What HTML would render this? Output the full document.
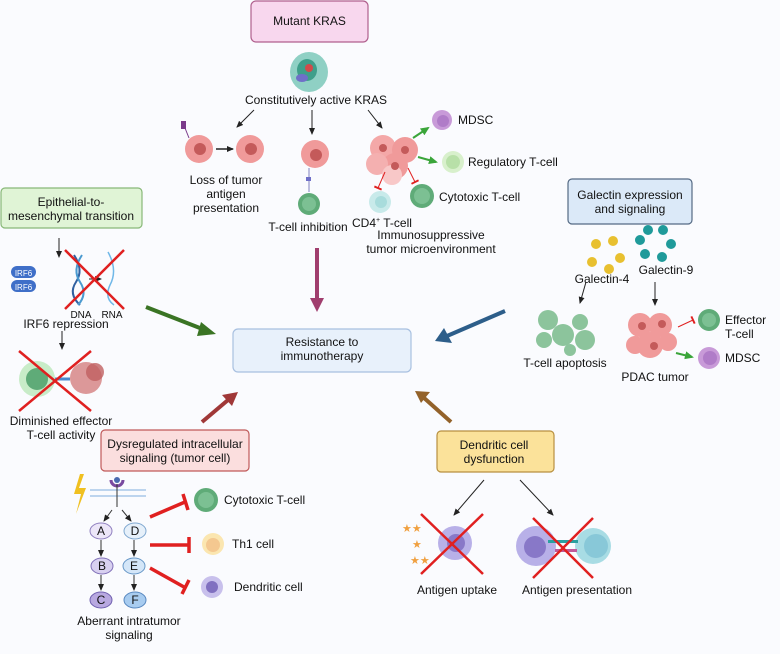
<!DOCTYPE html>
<html><head><meta charset="utf-8"><style>
html,body{margin:0;padding:0;background:#fafbfe;}
svg{display:block;font-family:"Liberation Sans",Arial,sans-serif;}
text{fill:#111;}
</style></head><body>
<svg width="780" height="654" viewBox="0 0 780 654" xmlns="http://www.w3.org/2000/svg">
<defs>
<marker id="ah" markerWidth="8" markerHeight="8" refX="6" refY="4" orient="auto" markerUnits="userSpaceOnUse"><path d="M0,1 L7,4 L0,7 z" fill="#222"/></marker>
<marker id="ag" markerWidth="10" markerHeight="10" refX="7" refY="5" orient="auto" markerUnits="userSpaceOnUse"><path d="M0,1 L9,5 L0,9 z" fill="#3aa53a"/></marker>
<marker id="ir" markerWidth="4" markerHeight="8" refX="1" refY="4" orient="auto" markerUnits="userSpaceOnUse"><path d="M0,0 L2,0 L2,8 L0,8z" fill="#e02020"/></marker>
</defs>
<rect width="780" height="654" fill="#fafbfe"/>

<!-- Mutant KRAS -->
<rect x="251" y="1" width="117" height="41" rx="5" fill="#f8d7ee" stroke="#b0608e" stroke-width="1.2"/>
<text x="309.5" y="25" font-size="12" text-anchor="middle">Mutant KRAS</text>
<ellipse cx="309" cy="72" rx="19" ry="20" fill="#8fd0c4"/>
<ellipse cx="307" cy="70" rx="10" ry="11" fill="#3e9f8a"/>
<circle cx="309" cy="68" r="4" fill="#d24a4a"/>
<ellipse cx="302" cy="78" rx="6" ry="4" fill="#6f6fc8"/>
<text x="316" y="104" font-size="12" text-anchor="middle">Constitutively active KRAS</text>
<line x1="254" y1="110" x2="237" y2="127" stroke="#222" marker-end="url(#ah)"/>
<line x1="312" y1="110" x2="312" y2="134" stroke="#222" marker-end="url(#ah)"/>
<line x1="368" y1="110" x2="382" y2="128" stroke="#222" marker-end="url(#ah)"/>

<!-- loss of antigen -->
<rect x="181" y="121" width="5" height="8" fill="#7a3a8a"/>
<line x1="185" y1="128" x2="189" y2="138" stroke="#7a3a8a"/>
<circle cx="199" cy="149" r="14" fill="#f09a9a"/><circle cx="200" cy="149" r="6" fill="#c45a5a"/>
<line x1="216" y1="149" x2="233" y2="149" stroke="#222" stroke-width="1.5" marker-end="url(#ah)"/>
<circle cx="250" cy="149" r="14" fill="#f09a9a"/><circle cx="251" cy="149" r="6" fill="#c45a5a"/>
<text x="226" y="184" font-size="12" text-anchor="middle">Loss of tumor</text>
<text x="226" y="198" font-size="12" text-anchor="middle">antigen</text>
<text x="226" y="212" font-size="12" text-anchor="middle">presentation</text>

<!-- T-cell inhibition -->
<circle cx="315" cy="154" r="14" fill="#f09a9a"/><circle cx="316" cy="155" r="6" fill="#c45a5a"/>
<line x1="309" y1="168" x2="309" y2="192" stroke="#8080c0"/>
<rect x="306" y="177" width="5" height="4" fill="#6f6fc8"/>
<circle cx="309" cy="204" r="11" fill="#5fab78"/><circle cx="309" cy="204" r="7" fill="#7cc093"/>
<text x="308" y="231" font-size="12" text-anchor="middle">T-cell inhibition</text>

<!-- TME cluster -->
<circle cx="383" cy="148" r="13" fill="#f4a8a8"/>
<circle cx="405" cy="150" r="13" fill="#f09a9a"/>
<circle cx="395" cy="166" r="13" fill="#f09a9a"/>
<circle cx="377" cy="164" r="11" fill="#f4b0b0"/>
<circle cx="392" cy="175" r="10" fill="#f8c8c8"/>
<circle cx="383" cy="148" r="4" fill="#c45a5a"/><circle cx="405" cy="150" r="4" fill="#c45a5a"/><circle cx="395" cy="166" r="4" fill="#c45a5a"/>
<line x1="413" y1="138" x2="428" y2="128" stroke="#3aa53a" stroke-width="2" marker-end="url(#ag)"/>
<line x1="418" y1="157" x2="436" y2="162" stroke="#3aa53a" stroke-width="2" marker-end="url(#ag)"/>
<line x1="385" y1="172" x2="378" y2="188" stroke="#e02020" marker-end="url(#ir)"/>
<line x1="408" y1="168" x2="415" y2="182" stroke="#e02020" marker-end="url(#ir)"/>
<circle cx="442" cy="120" r="10" fill="#c89ad8"/><circle cx="443" cy="121" r="6" fill="#b07cc8"/>
<text x="458" y="124" font-size="12">MDSC</text>
<circle cx="453" cy="162" r="11" fill="#d8f0cc"/><circle cx="453" cy="162" r="7" fill="#b8e0a8"/>
<text x="468" y="166" font-size="12">Regulatory T-cell</text>
<circle cx="422" cy="196" r="12" fill="#5fab78"/><circle cx="422" cy="196" r="8" fill="#7cc093"/>
<text x="439" y="201" font-size="12">Cytotoxic T-cell</text>
<circle cx="380" cy="202" r="11" fill="#c8eaea"/><circle cx="381" cy="202" r="6" fill="#a8dcdc"/>
<text x="352" y="227" font-size="12">CD4<tspan font-size="7" dy="-5">+</tspan><tspan dy="5"> T-cell</tspan></text>
<text x="431" y="239" font-size="12" text-anchor="middle">Immunosuppressive</text>
<text x="431" y="253" font-size="12" text-anchor="middle">tumor microenvironment</text>
<line x1="317" y1="248" x2="317" y2="300" stroke="#a03e6e" stroke-width="4"/>
<path d="M310,298 L324,298 L317,312 z" fill="#a03e6e"/>

<!-- Resistance -->
<rect x="233" y="329" width="178" height="43" rx="5" fill="#e8f1fb" stroke="#a8c0e0" stroke-width="1.2"/>
<text x="322" y="346" font-size="12" text-anchor="middle">Resistance to</text>
<text x="322" y="360" font-size="12" text-anchor="middle">immunotherapy</text>

<!-- EMT -->
<rect x="1" y="188" width="141" height="40" rx="4" fill="#e0f4d6" stroke="#88b878" stroke-width="1.2"/>
<text x="71" y="206" font-size="12" text-anchor="middle">Epithelial-to-</text>
<text x="71" y="220" font-size="12" text-anchor="middle">mesenchymal transition</text>
<line x1="59" y1="238" x2="59" y2="257" stroke="#222" marker-end="url(#ah)"/>
<rect x="11" y="266" width="25" height="12" rx="6" fill="#3f6fc8"/>
<rect x="11" y="280" width="25" height="12" rx="6" fill="#3f6fc8"/>
<text x="23.5" y="276" font-size="8" fill="#fff" text-anchor="middle" style="fill:#fff">IRF6</text>
<text x="23.5" y="290" font-size="8" text-anchor="middle" style="fill:#fff">IRF6</text>
<path d="M74,255 Q84,270 76,282 Q68,294 80,305" stroke="#3060a0" stroke-width="2" fill="none"/>
<path d="M82,255 Q72,270 80,282 Q88,294 78,305" stroke="#4a9ad0" stroke-width="2" fill="none"/>
<path d="M108,252 Q118,270 110,285 Q104,298 114,305" stroke="#70b8e8" stroke-width="1.5" fill="none"/>
<line x1="89" y1="279" x2="101" y2="279" stroke="#222" marker-end="url(#ah)"/>
<line x1="65" y1="250" x2="124" y2="309" stroke="#e02020" stroke-width="2.5"/>
<line x1="124" y1="250" x2="65" y2="309" stroke="#e02020" stroke-width="2.5"/>
<text x="81" y="318" font-size="10" text-anchor="middle">DNA</text>
<text x="112" y="318" font-size="10" text-anchor="middle">RNA</text>
<text x="66" y="328" font-size="12" text-anchor="middle">IRF6 repression</text>
<line x1="62" y1="331" x2="62" y2="349" stroke="#222" marker-end="url(#ah)"/>
<circle cx="37" cy="379" r="18" fill="#c8ecc8"/><circle cx="37" cy="379" r="11" fill="#5fab78"/>
<circle cx="86" cy="378" r="16" fill="#d48080" opacity="0.8"/><circle cx="95" cy="372" r="9" fill="#c06060" opacity="0.8"/>
<line x1="55" y1="379" x2="70" y2="379" stroke="#4a8ad0" stroke-width="3"/>
<line x1="19" y1="351" x2="91" y2="411" stroke="#e02020" stroke-width="2.5"/>
<line x1="91" y1="351" x2="19" y2="411" stroke="#e02020" stroke-width="2.5"/>
<text x="61" y="425" font-size="12" text-anchor="middle">Diminished effector</text>
<text x="61" y="439" font-size="12" text-anchor="middle">T-cell activity</text>
<line x1="146" y1="307" x2="205" y2="330" stroke="#3a7424" stroke-width="4"/>
<path d="M201,322 L216,334 L197,336 z" fill="#3a7424"/>

<!-- Galectin -->
<rect x="568" y="179" width="124" height="45" rx="4" fill="#dbe9f8" stroke="#556a84" stroke-width="1.2"/>
<text x="630" y="199" font-size="12" text-anchor="middle">Galectin expression</text>
<text x="630" y="213" font-size="12" text-anchor="middle">and signaling</text>
<g fill="#e8c030"><circle cx="596" cy="244" r="5"/><circle cx="613" cy="241" r="5"/><circle cx="620" cy="258" r="5"/><circle cx="609" cy="269" r="5"/><circle cx="592" cy="262" r="5"/></g>
<g fill="#1f9a9a"><circle cx="648" cy="230" r="5"/><circle cx="663" cy="230" r="5"/><circle cx="671" cy="244" r="5"/><circle cx="662" cy="257" r="5"/><circle cx="645" cy="254" r="5"/><circle cx="640" cy="240" r="5"/></g>
<text x="602" y="283" font-size="12" text-anchor="middle">Galectin-4</text>
<text x="666" y="274" font-size="12" text-anchor="middle">Galectin-9</text>
<line x1="586" y1="282" x2="580" y2="303" stroke="#222" marker-end="url(#ah)"/>
<line x1="655" y1="282" x2="655" y2="305" stroke="#222" marker-end="url(#ah)"/>
<g fill="#8cc49c"><circle cx="548" cy="320" r="10"/><circle cx="563" cy="335" r="11"/><circle cx="544" cy="340" r="8"/><circle cx="580" cy="322" r="8"/><circle cx="585" cy="340" r="10"/><circle cx="570" cy="350" r="6"/></g>
<text x="565" y="367" font-size="12" text-anchor="middle">T-cell apoptosis</text>
<g fill="#f09a9a"><circle cx="640" cy="325" r="12"/><circle cx="660" cy="325" r="12"/><circle cx="650" cy="345" r="13"/><circle cx="635" cy="345" r="9"/><circle cx="668" cy="342" r="9"/></g>
<g fill="#c45a5a"><circle cx="642" cy="326" r="4"/><circle cx="662" cy="324" r="4"/><circle cx="654" cy="346" r="4"/></g>
<text x="655" y="381" font-size="12" text-anchor="middle">PDAC tumor</text>
<line x1="678" y1="327" x2="693" y2="320" stroke="#e02020" marker-end="url(#ir)"/>
<circle cx="709" cy="320" r="11" fill="#5fab78"/><circle cx="709" cy="320" r="7" fill="#7cc093"/>
<text x="725" y="324" font-size="12">Effector</text>
<text x="725" y="338" font-size="12">T-cell</text>
<line x1="676" y1="353" x2="692" y2="357" stroke="#3aa53a" stroke-width="2" marker-end="url(#ag)"/>
<circle cx="709" cy="358" r="11" fill="#c89ad8"/><circle cx="710" cy="358" r="7" fill="#b07cc8"/>
<text x="725" y="362" font-size="12">MDSC</text>
<line x1="505" y1="311" x2="447" y2="336" stroke="#2d5e8a" stroke-width="4"/>
<path d="M444,328 L435,341 L452,343 z" fill="#2d5e8a"/>

<!-- Dysregulated -->
<rect x="101" y="430" width="148" height="41" rx="4" fill="#fbdede" stroke="#c05a5a" stroke-width="1.2"/>
<text x="175" y="448" font-size="12" text-anchor="middle">Dysregulated intracellular</text>
<text x="175" y="462" font-size="12" text-anchor="middle">signaling (tumor cell)</text>
<line x1="202" y1="422" x2="228" y2="400" stroke="#a03838" stroke-width="4"/>
<path d="M222,395 L238,392 L232,406 z" fill="#a03838"/>
<path d="M80,474 L74,494 L81,494 L76,514 L86,488 L79,488 L84,474 z" fill="#f0c020"/>
<line x1="90" y1="490" x2="146" y2="490" stroke="#a8c8e8" stroke-width="1.5"/>
<line x1="90" y1="496" x2="146" y2="496" stroke="#a8c8e8" stroke-width="1.5"/>
<path d="M111,480 A6,6 0 0,0 123,480" stroke="#7a4aa0" stroke-width="3" fill="none"/>
<circle cx="117" cy="480" r="3" fill="#4a6ab0"/>
<line x1="117" y1="484" x2="117" y2="507" stroke="#333"/>
<line x1="112" y1="510" x2="104" y2="521" stroke="#333" marker-end="url(#ah)"/>
<line x1="122" y1="510" x2="131" y2="521" stroke="#333" marker-end="url(#ah)"/>
<g font-size="12" text-anchor="middle">
<ellipse cx="101" cy="531" rx="11" ry="8" fill="#ece6f8" stroke="#9080c0"/><text x="101" y="535">A</text>
<ellipse cx="135" cy="531" rx="11" ry="8" fill="#e6f0fa" stroke="#80a8d0"/><text x="135" y="535">D</text>
<ellipse cx="102" cy="566" rx="11" ry="8" fill="#d8d0f0" stroke="#8070b8"/><text x="102" y="570">B</text>
<ellipse cx="134" cy="566" rx="11" ry="8" fill="#d4e6f8" stroke="#6898c8"/><text x="134" y="570">E</text>
<ellipse cx="101" cy="600" rx="11" ry="8" fill="#b8a8e0" stroke="#7060b0"/><text x="101" y="604">C</text>
<ellipse cx="135" cy="600" rx="11" ry="8" fill="#a8ccf0" stroke="#5888c0"/><text x="135" y="604">F</text>
</g>
<g stroke="#333"><line x1="101" y1="540" x2="101" y2="556" marker-end="url(#ah)"/><line x1="134" y1="540" x2="134" y2="556" marker-end="url(#ah)"/><line x1="101" y1="575" x2="101" y2="590" marker-end="url(#ah)"/><line x1="134" y1="575" x2="134" y2="590" marker-end="url(#ah)"/></g>
<g stroke="#e02020" stroke-width="3.5"><line x1="150" y1="517" x2="185" y2="502"/><line x1="183" y1="494" x2="188" y2="510"/>
<line x1="150" y1="545" x2="188" y2="545"/><line x1="189" y1="537" x2="189" y2="553"/>
<line x1="150" y1="568" x2="184" y2="587"/><line x1="189" y1="580" x2="182" y2="594"/></g>
<circle cx="206" cy="500" r="12" fill="#5fab78"/><circle cx="206" cy="500" r="8" fill="#7cc093"/>
<text x="224" y="504" font-size="12">Cytotoxic T-cell</text>
<circle cx="213" cy="544" r="11" fill="#fbe6b0"/><circle cx="213" cy="545" r="7" fill="#f4c890"/>
<text x="232" y="548" font-size="12">Th1 cell</text>
<circle cx="212" cy="587" r="11" fill="#c8c0ec"/><circle cx="212" cy="587" r="6" fill="#8070c0"/>
<text x="234" y="591" font-size="12">Dendritic cell</text>
<text x="129" y="625" font-size="12" text-anchor="middle">Aberrant intratumor</text>
<text x="129" y="639" font-size="12" text-anchor="middle">signaling</text>

<!-- Dendritic -->
<rect x="437" y="431" width="117" height="41" rx="4" fill="#fbe29a" stroke="#b89040" stroke-width="1.2"/>
<text x="494" y="449" font-size="12" text-anchor="middle">Dendritic cell</text>
<text x="494" y="463" font-size="12" text-anchor="middle">dysfunction</text>
<line x1="451" y1="422" x2="423" y2="397" stroke="#93622a" stroke-width="4"/>
<path d="M415,391 L430,392 L421,403 z" fill="#93622a"/>
<line x1="484" y1="480" x2="454" y2="515" stroke="#222" marker-end="url(#ah)"/>
<line x1="520" y1="480" x2="553" y2="515" stroke="#222" marker-end="url(#ah)"/>
<g fill="#f0a040" font-size="11"><text x="402" y="532" style="fill:#f0a040">★★</text><text x="412" y="548" style="fill:#f0a040">★</text><text x="410" y="564" style="fill:#f0a040">★★</text></g>
<circle cx="455" cy="543" r="17" fill="#b8b0e8"/><circle cx="456" cy="543" r="9" fill="#8878c8"/>
<line x1="421" y1="514" x2="483" y2="574" stroke="#e02020" stroke-width="2.5"/>
<line x1="483" y1="514" x2="421" y2="574" stroke="#e02020" stroke-width="2.5"/>
<text x="457" y="594" font-size="12" text-anchor="middle">Antigen uptake</text>
<circle cx="536" cy="546" r="20" fill="#b8b0e8"/><circle cx="535" cy="547" r="11" fill="#8878c8"/>
<circle cx="593" cy="546" r="18" fill="#a8dce4"/><circle cx="596" cy="546" r="12" fill="#88c8d8"/>
<rect x="548" y="540" width="30" height="3" fill="#2aa0a0"/><rect x="555" y="549" width="22" height="3" fill="#c05a9a"/>
<line x1="533" y1="518" x2="593" y2="578" stroke="#e02020" stroke-width="2.5"/>
<line x1="593" y1="518" x2="533" y2="578" stroke="#e02020" stroke-width="2.5"/>
<text x="577" y="594" font-size="12" text-anchor="middle">Antigen presentation</text>
</svg>
</body></html>
